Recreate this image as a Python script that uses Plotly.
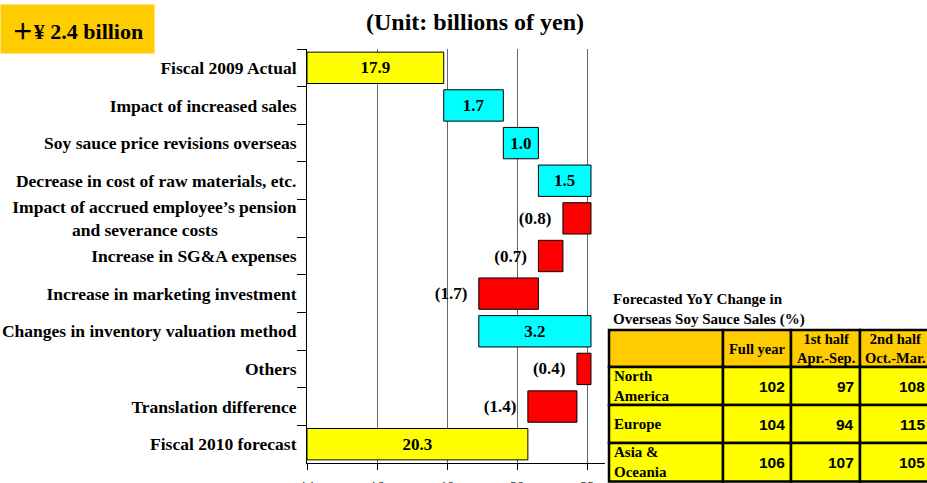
import plotly.graph_objects as go

# ---------------- data ----------------
categories = [
    "Fiscal 2009 Actual",
    "Impact of increased sales",
    "Soy sauce price revisions overseas",
    "Decrease in cost of raw materials, etc.",
    "Impact of accrued employee\u2019s pension<br>and severance costs\u2003\u2003\u2003\u2003\u2002",
    "Increase in SG&A expenses",
    "Increase in marketing investment",
    "Changes in inventory valuation method",
    "Others",
    "Translation difference",
    "Fiscal 2010 forecast",
]
start_value = 17.9
changes = [1.7, 1.0, 1.5, -0.8, -0.7, -1.7, 3.2, -0.4, -1.4]
end_value = 20.3
x_ticks = [14, 16, 18, 20, 22]

table_title = "Forecasted YoY Change in<br>Overseas Soy Sauce Sales (%)"
table_header = ["", "Full year", "1st half<br>Apr.-Sep.", "2nd half<br>Oct.-Mar."]
regions = ["North<br>America", "Europe", "Asia &<br>Oceania"]
full_year = [102, 104, 106]
first_half = [97, 94, 107]
second_half = [108, 115, 105]

AXIS_MIN, AXIS_MAX = 14, 22.5
YELLOW, CYAN, RED = "#FFFF00", "#00FFFF", "#FF0000"
ORANGE = "#FFCC00"
SERIF = "Liberation Serif, Times New Roman, serif"
SANS = "Liberation Sans, Arial, sans-serif"
W, H = 927, 483

# ---------------- waterfall geometry ----------------
bases, lengths, colors, texts, positions = [], [], [], [], []
bases.append(AXIS_MIN); lengths.append(start_value - AXIS_MIN)
colors.append(YELLOW); texts.append(f"{start_value:.1f}"); positions.append("inside")
running = start_value
for c in changes:
    bases.append(running); lengths.append(c)
    running = round(running + c, 2)
    if c >= 0:
        colors.append(CYAN); texts.append(f"{c:.1f}"); positions.append("inside")
    else:
        colors.append(RED); texts.append(f"({abs(c):.1f})\u2002"); positions.append("outside")
bases.append(AXIS_MIN); lengths.append(end_value - AXIS_MIN)
colors.append(YELLOW); texts.append(f"{end_value:.1f}"); positions.append("inside")

fig = go.Figure()
fig.add_trace(go.Bar(
    y=categories, x=lengths, base=bases, orientation="h",
    marker=dict(color=colors, line=dict(color="black", width=1)),
    text=texts, textposition=positions, insidetextanchor="middle",
    textfont=dict(family=SERIF, size=17, color="black"),
    insidetextfont=dict(family=SERIF, size=17, color="black"),
    outsidetextfont=dict(family=SERIF, size=17, color="black"),
    constraintext="none", cliponaxis=False, texttemplate="<b>%{text}</b>",
    hoverinfo="skip", showlegend=False,
))

fig.update_layout(
    width=W, height=H, margin=dict(l=0, r=0, t=0, b=0),
    template="none", paper_bgcolor="white", plot_bgcolor="white",
    bargap=0.167, showlegend=False,
    xaxis=dict(
        domain=[307 / W, 605 / W], range=[AXIS_MIN, AXIS_MAX],
        tickvals=x_ticks, ticks="outside", ticklen=6, tickcolor="black",
        ticklabelstandoff=5,
        showgrid=True, gridcolor="#666666", gridwidth=1, zeroline=False,
        showline=True, linecolor="black", linewidth=1, automargin=False,
        tickfont=dict(family=SERIF, size=14, color="black"),
        tickprefix="<b>", ticksuffix="</b>",
    ),
    yaxis=dict(
        domain=[(H - 463) / H, (H - 49) / H],
        type="category", categoryorder="array", categoryarray=categories,
        autorange="reversed", tickson="boundaries", ticks="outside", ticklen=9,
        ticklabelstandoff=6,
        tickcolor="black", showline=True, linecolor="black", linewidth=1,
        showgrid=False, zeroline=False, automargin=False,
        tickfont=dict(family=SERIF, size=17.5, color="black"),
        tickprefix="<b>", ticksuffix="</b>",
    ),
)

# ---------------- table (layout grid) ----------------
col_edges = [609, 723, 791, 860, 931]   # page pixels
row_edges = [330, 367, 405, 443, 481.5]


def px(x):
    return x / W


def py(y):
    return 1 - y / H


body = [regions, full_year, first_half, second_half]
for r in range(len(row_edges) - 1):
    for c in range(len(col_edges) - 1):
        fig.add_shape(
            type="rect", xref="paper", yref="paper",
            x0=px(col_edges[c]), x1=px(col_edges[c + 1]),
            y0=py(row_edges[r]), y1=py(row_edges[r + 1]),
            fillcolor=ORANGE if r == 0 else YELLOW,
            line=dict(color="black", width=2.5), layer="above",
        )
        ymid = py((row_edges[r] + row_edges[r + 1]) / 2)
        if r == 0:
            txt = table_header[c]
            if txt:
                fig.add_annotation(
                    xref="paper", yref="paper",
                    x=px((col_edges[c] + col_edges[c + 1]) / 2), y=ymid,
                    xanchor="center", yanchor="middle", align="center",
                    text=f"<b>{txt}</b>", showarrow=False,
                    font=dict(family=SERIF, size=14.5, color="black"),
                )
        else:
            val = body[c][r - 1]
            if c == 0:
                fig.add_annotation(
                    xref="paper", yref="paper", x=px(col_edges[c] + 3), y=ymid,
                    xanchor="left", yanchor="middle", align="left",
                    text=f"<b>{val}</b>", showarrow=False,
                    font=dict(family=SERIF, size=15, color="black"),
                )
            else:
                fig.add_annotation(
                    xref="paper", yref="paper", x=px(col_edges[c + 1] - 4), y=ymid,
                    xanchor="right", yanchor="middle", align="right",
                    text=f"<b>{val}</b>", showarrow=False,
                    font=dict(family=SANS, size=15.5, color="black"),
                )

fig.add_annotation(
    xref="paper", yref="paper", x=px(611), y=py(289), xanchor="left", yanchor="top",
    text=f"<b>{table_title}</b>", showarrow=False,
    align="left", font=dict(family=SERIF, size=15, color="black"),
)

# ---------------- badge & title ----------------
fig.add_annotation(
    xref="paper", yref="paper", x=0, y=py(4), xanchor="left", yanchor="top",
    text="<b><span style=\"font-family:'Noto Sans CJK JP'\">\uff0b</span>\u00a5 2.4 billion</b>",
    showarrow=False, width=151, height=46, bgcolor=ORANGE, borderpad=1, align="center",
    font=dict(family=SERIF, size=22, color="black"),
)
fig.add_annotation(
    xref="paper", yref="paper", x=px(475), y=py(22), xanchor="center", yanchor="middle",
    text="<b>(Unit: billions of yen)</b>", showarrow=False,
    font=dict(family=SERIF, size=24, color="black"),
)

fig.write_html("out.html", config={"displayModeBar": False},
               post_script="document.body.style.margin='0';")
